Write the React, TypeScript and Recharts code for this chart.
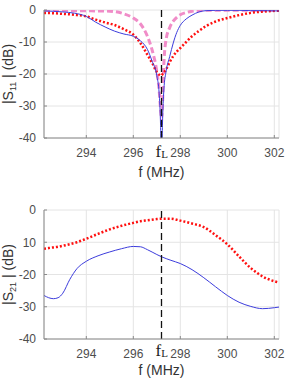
import React from 'react';
import { LineChart, Line, XAxis, YAxis, CartesianGrid, ReferenceLine } from 'recharts';

// ---- data ----
const freqS11 = [292.2, 292.6, 293, 293.5, 294, 294.4, 294.8, 295.2, 295.6, 296, 296.3, 296.6, 296.8, 297, 297.1, 297.16, 297.2, 297.24, 297.3, 297.4, 297.55, 297.7, 297.85, 298, 298.25, 298.5, 298.8, 299.1, 299.5, 300, 300.5, 301, 301.5, 302.2];
const s11Blue = [-0.3, -0.4, -0.6, -1.0, -2.0, -3.8, -5.3, -6.6, -7.5, -8.2, -9.6, -12.3, -16, -20.5, -26, -36, -50, -36, -25, -19, -14.5, -10.3, -7, -4.8, -2.8, -1.6, -0.6, -0.2, -0.1, -0.1, -0.1, -0.2, -0.2, -0.3];
const s11Red = [-0.9, -1.0, -1.2, -1.5, -2.0, -3.0, -3.9, -4.7, -6.0, -7.7, -10.3, -14, -16.5, -19.4, -20.2, -20.5, -20.4, -20.1, -19.6, -18.5, -16.3, -14.4, -13, -11.9, -10, -8.2, -6.5, -5.0, -3.6, -2.5, -1.6, -0.9, -0.5, -0.2];
const s11Pink = [-0.1, -0.1, -0.1, -0.2, -0.2, -0.3, -0.3, -0.5, -1.2, -2.5, -4.3, -8.2, -12.5, -19.2, -25, -31, -34, -30, -17, -9, -5.5, -3.5, -2.3, -1.5, -0.8, -0.4, -0.2, -0.1, -0.1, -0.1, -0.1, -0.1, -0.1, -0.1];

const freqS21 = [292.2, 292.4, 292.6, 292.8, 293.0, 293.3, 293.6, 294.0, 294.5, 295.0, 295.5, 296.0, 296.3, 296.6, 297.0, 297.2, 297.6, 298.0, 298.5, 299.0, 299.5, 300.0, 300.5, 301.0, 301.5, 302.0, 302.2];
const s21Blue = [-26.5, -27.2, -27.5, -27.2, -25.8, -21.5, -18.2, -15.9, -14.2, -13.0, -12.0, -11.3, -11.4, -12.3, -13.8, -14.5, -15.6, -16.6, -18.5, -21, -23.8, -26.5, -28.6, -29.9, -30.6, -30.3, -30.1];
const s21Red = [-12, -11.8, -11.6, -11.4, -11.1, -10.6, -10.0, -8.9, -7.4, -6.0, -4.9, -4.0, -3.5, -3.2, -2.8, -2.7, -2.7, -3.3, -4.2, -5.3, -7.8, -10.6, -14.4, -18, -20.6, -22.1, -22.5];

const xTicks = [294, 296, 298, 300, 302];
const yTicks = [-40, -30, -20, -10, 0];
const s21TickText: Record<number, string> = { 0: '0', [-10]: '10', [-20]: '-20', [-30]: '-30', [-40]: '-40' };
const fL = 297.2;
const xDomain = [292.2, 302.2];

const s11Data = freqS11.map((f, i) => ({ f, blue: s11Blue[i], red: s11Red[i], pink: s11Pink[i] }));
const s21Data = freqS21.map((f, i) => ({ f, blue: s21Blue[i], red: s21Red[i] }));

// ---- styles ----
const sans = "'Liberation Sans', Arial, Helvetica, sans-serif";
const serif = "'Liberation Serif', 'Times New Roman', serif";
const axisColor = '#8a8a8a';
const gridColor = '#e4e4e4';
const tickStyle = { fontSize: 12, fill: '#4d4d4d', fontFamily: sans };

const makeYLabel = (sub: string) => (props: any) => {
  const vb = props.viewBox || { x: 0, y: 10, width: 44, height: 128 };
  const cy = vb.y + vb.height / 2;
  const x = 13;
  return (
    <text x={x} y={cy} transform={`rotate(-90 ${x} ${cy})`} textAnchor="middle" fontSize={14} fill="#333" fontFamily={sans}>
      |S<tspan fontSize={9} dy={3}>{sub}</tspan>
      <tspan dy={-3}> | (dB)</tspan>
    </text>
  );
};

const makeXLabel = (off: number) => (props: any) => {
  const vb = props.viewBox || { x: 44, y: 138, width: 235, height: 52 };
  return (
    <text x={vb.x + vb.width / 2} y={vb.y + off} textAnchor="middle" fontSize={14} fill="#333" fontFamily={sans}>
      f (MHz)
    </text>
  );
};

const makeFLLabel = (off: number) => (props: any) => {
  const vb = props.viewBox || { x: 162, y: 10, width: 0, height: 128 };
  return (
    <text x={vb.x - 6} y={vb.y + vb.height + off} fontSize={17} fill="#222" fontFamily={serif}>
      f<tspan fontSize={11} dy={1}>L</tspan>
    </text>
  );
};

function Frame({ children, data, height, top, xLabelOff, fLOff, yLabelSub, tickFmt }: any) {
  return (
    <LineChart width={285} height={height} data={data} margin={{ top, right: 6, bottom: 0, left: 0 }}>
      <CartesianGrid stroke={gridColor} />
      <XAxis
        dataKey="f"
        type="number"
        domain={xDomain}
        ticks={xTicks}
        allowDataOverflow
        height={height - top - 129 + (height === 190 ? 1 : 0)}
        tickSize={-3}
        tickMargin={13}
        tick={tickStyle}
        stroke={axisColor}
        tickLine={{ stroke: axisColor }}
        label={makeXLabel(xLabelOff)}
      />
      <XAxis xAxisId="t" orientation="top" type="number" domain={xDomain} ticks={xTicks} allowDataOverflow height={0} tickSize={-3} tick={false} stroke={axisColor} />
      <YAxis
        type="number"
        domain={[-40, 0]}
        ticks={yTicks}
        allowDataOverflow
        width={44}
        tickSize={-3}
        tickMargin={11}
        tick={tickStyle}
        tickFormatter={tickFmt}
        stroke={axisColor}
        label={makeYLabel(yLabelSub)}
      />
      <YAxis yAxisId="r" orientation="right" type="number" domain={[-40, 0]} ticks={yTicks} allowDataOverflow width={0} tickSize={-3} tick={false} stroke={axisColor} />
      {children}
      <ReferenceLine x={fL} stroke="#111" strokeWidth={1.3} strokeDasharray="7 4" label={makeFLLabel(fLOff)} />
    </LineChart>
  );
}

export default function App() {
  return (
    <div style={{ position: 'absolute', left: 0, top: 0, width: 285, height: 378, background: '#fff' }}>
      <Frame data={s11Data} height={190} top={10} xLabelOff={39} fLOff={19} yLabelSub="11">
        <Line type="monotone" dataKey="pink" stroke="#f08cc8" strokeWidth={3} strokeDasharray="6 3" dot={false} activeDot={false} isAnimationActive={false} />
        <Line type="monotone" dataKey="red" stroke="#ff1010" strokeWidth={2.5} strokeDasharray="2 2" dot={false} activeDot={false} isAnimationActive={false} />
        <Line type="monotone" dataKey="blue" stroke="#3c3cdc" strokeWidth={1} dot={false} activeDot={false} isAnimationActive={false} />
      </Frame>
      <Frame data={s21Data} height={188} top={20} xLabelOff={36} fLOff={17} yLabelSub="21" tickFmt={(v: number) => s21TickText[v] ?? String(v)}>
        <Line type="monotone" dataKey="red" stroke="#ff1010" strokeWidth={2.5} strokeDasharray="2 2" dot={false} activeDot={false} isAnimationActive={false} />
        <Line type="monotone" dataKey="blue" stroke="#3c3cdc" strokeWidth={1} dot={false} activeDot={false} isAnimationActive={false} />
      </Frame>
    </div>
  );
}
